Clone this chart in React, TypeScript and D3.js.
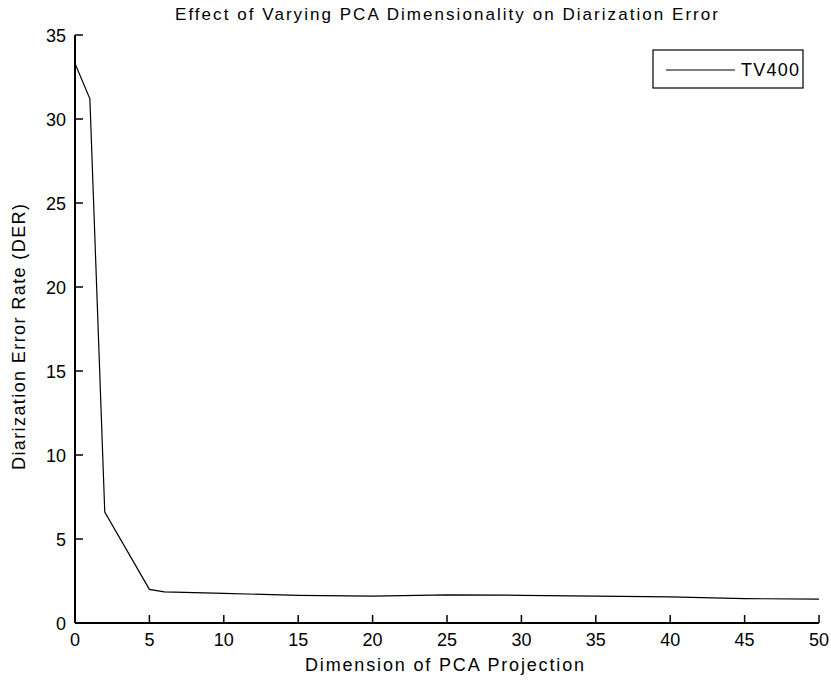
import React from "react";
import * as d3 from "d3";

const dims = [0, 1, 2, 5, 6, 10, 15, 20, 25, 30, 35, 40, 45, 50];
const der = [33.3, 31.2, 6.6, 2.0, 1.85, 1.76, 1.65, 1.6, 1.68, 1.65, 1.6, 1.55, 1.45, 1.42];
const xTicks = [0, 5, 10, 15, 20, 25, 30, 35, 40, 45, 50];
const yTicks = [0, 5, 10, 15, 20, 25, 30, 35];
const seriesName = "TV400";
const title = "Effect of Varying PCA Dimensionality on Diarization Error";
const xLabel = "Dimension of PCA Projection";
const yLabel = "Diarization Error Rate (DER)";

const W = 831;
const H = 683;
const left = 75;
const right = 819;
const top = 35;
const bottom = 623;
const font = "'Liberation Sans', Arial, Helvetica, sans-serif";

export default function App() {
  const x = d3.scaleLinear().domain([0, 50]).range([left, right]);
  const y = d3.scaleLinear().domain([0, 35]).range([bottom, top]);
  const line = d3
    .line<number>()
    .x((_, i) => x(dims[i]))
    .y((d) => y(d));
  return (
    <svg
      width={W}
      height={H}
      style={{ position: "absolute", left: 0, top: 0, background: "#fff" }}
      fontFamily={font}
    >
      <text x={175} y={20} fontSize={17} fill="#000" textLength={543} lengthAdjust="spacing">
        {title}
      </text>
      {/* axes */}
      <line x1={left} y1={top} x2={left} y2={bottom} stroke="#000" strokeWidth={2} />
      <line x1={left} y1={bottom} x2={right} y2={bottom} stroke="#000" strokeWidth={2} />
      {yTicks.map((t) => (
        <g key={"y" + t}>
          <line x1={left} x2={left + 8} y1={y(t)} y2={y(t)} stroke="#000" strokeWidth={1.5} />
          <text x={left - 9} y={y(t) + 7} textAnchor="end" fontSize={18} fill="#000">
            {t}
          </text>
        </g>
      ))}
      {xTicks.map((t) => (
        <g key={"x" + t}>
          <line x1={x(t)} x2={x(t)} y1={bottom} y2={bottom - 8} stroke="#000" strokeWidth={1.5} />
          <text x={x(t)} y={bottom + 23} textAnchor="middle" fontSize={18} fill="#000">
            {t}
          </text>
        </g>
      ))}
      <text x={305} y={671} fontSize={18} fill="#000" textLength={279} lengthAdjust="spacing">
        {xLabel}
      </text>
      <text
        transform={`translate(25,470) rotate(-90)`}
        fontSize={18}
        fill="#000"
        textLength={266}
        lengthAdjust="spacing"
      >
        {yLabel}
      </text>
      <path d={line(der) || ""} fill="none" stroke="#000" strokeWidth={1.2} />
      {/* legend */}
      <rect x={653} y={50} width={150} height={38} fill="#fff" stroke="#000" strokeWidth={1.2} />
      <line x1={666} x2={735} y1={70} y2={70} stroke="#000" strokeWidth={1.2} />
      <text x={741} y={76} fontSize={18} fill="#000" textLength={58} lengthAdjust="spacing">
        {seriesName}
      </text>
    </svg>
  );
}
